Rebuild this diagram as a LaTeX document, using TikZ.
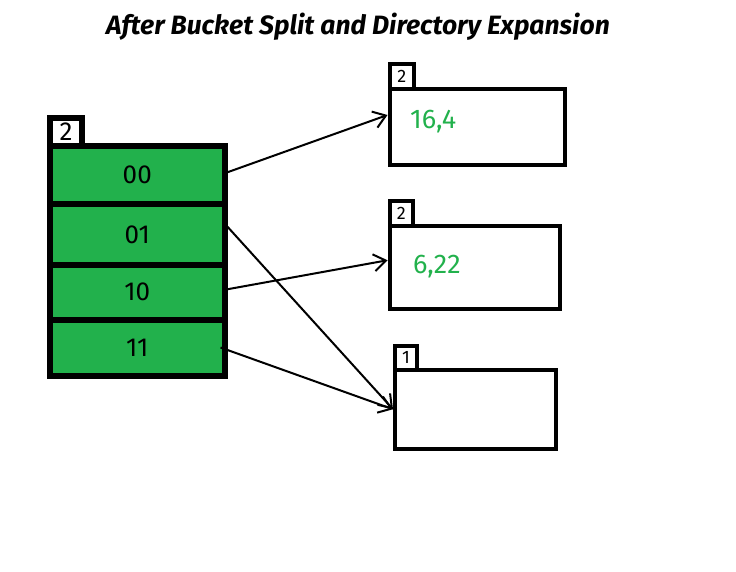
\documentclass[tikz,border=0pt]{standalone}
\usepackage{fontspec}
\setmainfont{Fira Sans}
\usetikzlibrary{arrows.meta}
\definecolor{paintgreen}{HTML}{22B14C}

\begin{document}
\begin{tikzpicture}[x=1pt, y=-1pt,
    cell/.style={draw, fill=paintgreen, line width=6pt, anchor=north west, minimum width=174.5pt, inner sep=0pt, font=\fontsize{26}{30}\selectfont},
    bucket/.style={draw, line width=4pt, anchor=north west, inner sep=0pt},
    depth/.style={draw, line width=4pt, anchor=south west, inner sep=0pt, font=\fontsize{18}{20}\selectfont},
    entry/.style={anchor=west, text=paintgreen, inner sep=0pt, font=\fontsize{27}{30}\selectfont},
    ptr/.style={line width=2pt, -{Straight Barb[length=12pt, width=17pt, line width=2pt]}}]
      \useasboundingbox (0,0) rectangle (736,572);
      \node[font=\fontsize{26.5}{30}\selectfont\bfseries\itshape] (title) at (358,27) {After Bucket Split and Directory Expansion};
      % directory
      \node[cell, minimum height=58.5pt] (d00) at (47,143) {00};
      \node[cell, minimum height=60.5pt] (d01) at (47,201.5) {01};
      \node[cell, minimum height=54.5pt] (d10) at (47,262) {10};
      \node[cell, minimum height=56pt] (d11) at (47,316.5) {11};
      \node[depth, line width=6pt, minimum width=32pt, minimum height=28pt, font=\fontsize{26}{30}\selectfont] (gd) at (47,149) {2};
      % buckets
      \node[bucket, minimum width=175.5pt, minimum height=76pt] (b1) at (387.5,87) {};
      \node[bucket, minimum width=170pt, minimum height=82.5pt] (b2) at (387.5,224) {};
      \node[bucket, minimum width=161pt, minimum height=78.5pt] (b3) at (393,368) {};
      \node[depth, minimum width=24.5pt, minimum height=25pt] (k1) at (387.5,91) {2};
      \node[depth, minimum width=23.5pt, minimum height=25pt] (k2) at (387.5,228) {2};
      \node[depth, minimum width=22pt, minimum height=24.5pt] (k3) at (393,372) {1};
      \node[entry] (v1) at (410,122) {16,4};
      \node[entry] (v2) at (413,267) {6,22};
      % pointers
      \draw[ptr] ([yshift=3pt]d00.east) -- ([yshift=12pt]b1.west);
      \draw[ptr] ([yshift=8pt]d01.east) -- (b3.west);
      \draw[ptr] ([yshift=3pt]d10.east) -- ([yshift=7pt]b2.west);
      \draw[ptr] ([xshift=-7pt]d11.east) -- (b3.west);
\end{tikzpicture}
\end{document}
